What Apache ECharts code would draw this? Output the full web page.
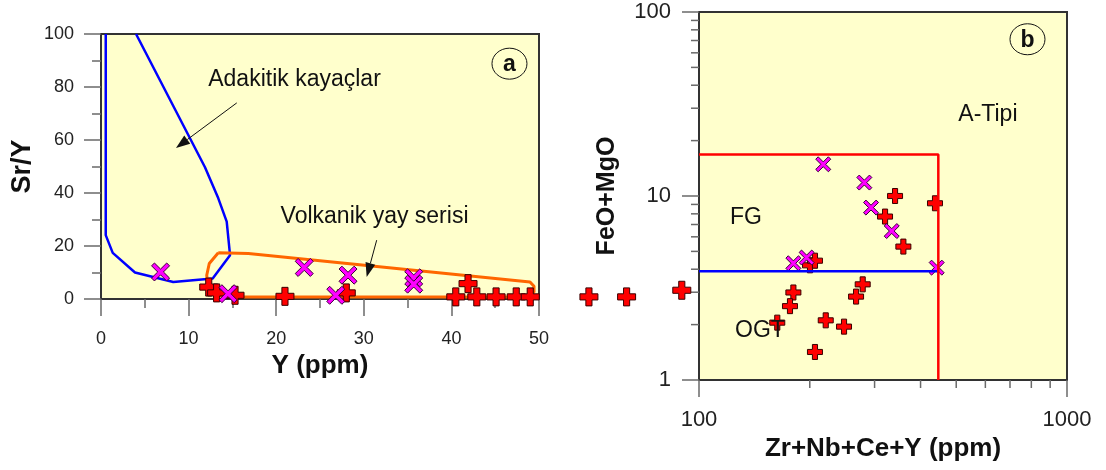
<!DOCTYPE html>
<html>
<head>
<meta charset="utf-8">
<script src="https://cdn.jsdelivr.net/npm/echarts@6/dist/echarts.min.js"></script>
<style>
  html, body { margin: 0; padding: 0; background: #ffffff; }
  #chart { width: 1106px; height: 470px; }
</style>
</head>
<body>
<div id="chart"></div>
<script>
// ---------- Panel (a): Sr/Y versus Y (ppm) ----------
const aPlusY     = [12.3, 13.2, 15.3, 21.0, 28.0, 41.9, 40.5, 42.9, 45.1, 47.4, 49.0, 55.7, 60.0, 66.3];
const aPlusSrY   = [4.5, 2.3, 1.4, 1.0, 2.3, 5.8, 0.8, 0.8, 0.8, 0.8, 0.8, 0.8, 0.8, 3.3];
const aCrossY    = [6.8, 14.5, 23.2, 28.2, 26.8, 35.7, 35.7];
const aCrossSrY  = [10.2, 2.0, 11.9, 9.0, 1.4, 8.0, 5.6];

// Adakite field boundary
const adakiteY   = [0.54, 0.54, 1.34, 3.88, 8.25, 12.75, 14.73, 14.35, 13.39, 11.87, 4.0];
const adakiteSrY = [100, 24.1, 17.4, 10.0, 6.44, 7.73, 16.55, 29.2, 38.0, 49.7, 100];

// Volcanic arc field boundary
const arcY   = [13.39, 16.82, 48.97, 49.43, 49.43, 48.97, 48.17, 15.1, 13.2, 12.25, 12.07, 12.36, 13.39];
const arcSrY = [17.42, 17.2, 6.44, 4.81, 2.65, 1.21, 0.76, 0.76, 1.4, 3.94, 8.98, 13.4, 17.42];

const aXTicks = { min: 0, max: 50, step: 10 };
const aYTicks = { min: 0, max: 100, step: 20 };

// ---------- Panel (b): FeO+MgO versus Zr+Nb+Ce+Y ----------
const bPlusSum   = [341, 437.8, 320.3, 359.2, 200.3, 206.6, 180.5, 176.7, 163.2, 206.6, 221, 247.8, 267.2, 278.5];
const bPlusFeMg  = [10.0, 9.13, 7.73, 5.31, 4.20, 4.45, 2.99, 2.52, 2.05, 1.42, 2.11, 1.95, 2.84, 3.31];
const bCrossSum  = [217.6, 281.4, 293.4, 334, 180.5, 196.1, 442.5];
const bCrossFeMg = [14.87, 11.83, 8.65, 6.45, 4.31, 4.63, 4.08];

// Field boundaries: A-type (red) and FG / OGT (blue)
const aTypeSum  = [100, 447, 447];
const aTypeFeMg = [16.8, 16.8, 1];
const fgSum     = [100, 447];
const fgFeMg    = [3.9, 3.9];

const bXRange = [100, 1000];
const bYRange = [1, 100];
const bXMinorTicks = [200, 300, 400, 500, 600, 700, 800, 900];
const bYMinorTicks = [2, 3, 4, 5, 6, 7, 8, 9, 20, 30, 40, 50, 60, 70, 80, 90];

const zip = (xs, ys) => xs.map((x, i) => [x, ys[i]]);

const FONT = '"Liberation Sans", Arial, Helvetica, sans-serif';
const PLUS = 'path://M33,0 H67 V33 H100 V67 H67 V100 H33 V67 H0 V33 H33 Z';
const CROSS = 'path://M0,16 L16,0 L50,34 L84,0 L100,16 L66,50 L100,84 L84,100 L50,66 L16,100 L0,84 L34,50 Z';
const AXIS_DARK = '#333333';
const TICK_GREY = '#6a6a6a';

function linearAxis(gridIndex, t, label, nameGap, nameSize, labelMargin) {
  return {
    type: 'value', gridIndex, min: t.min, max: t.max, interval: t.step,
    axisLine: { show: true, onZero: false, lineStyle: { color: AXIS_DARK, width: 1.5 } },
    axisTick: { show: true, length: 17, lineStyle: { color: TICK_GREY, width: 1.5 } },
    minorTick: { show: true, splitNumber: 2, length: 9, lineStyle: { color: TICK_GREY, width: 1.5 } },
    splitLine: { show: false },
    axisLabel: { fontSize: 18, color: '#222', margin: labelMargin, fontFamily: FONT },
    name: label, nameLocation: 'middle', nameGap,
    nameTextStyle: { fontSize: nameSize, fontWeight: 'bold', color: '#111', fontFamily: FONT }
  };
}

function logAxis(gridIndex, range, label, nameGap, nameSize, labelMargin) {
  return {
    type: 'log', logBase: 10, gridIndex, min: range[0], max: range[1],
    axisLine: { show: true, onZero: false, lineStyle: { color: AXIS_DARK, width: 1.5 } },
    axisTick: { show: true, length: 17, lineStyle: { color: TICK_GREY, width: 1.5 } },
    minorTick: { show: false },
    splitLine: { show: false },
    axisLabel: { fontSize: 22, color: '#222', margin: labelMargin, fontFamily: FONT,
      formatter: v => String(Math.round(v)) },
    name: label, nameLocation: 'middle', nameGap,
    nameTextStyle: { fontSize: nameSize, fontWeight: 'bold', color: '#111', fontFamily: FONT }
  };
}

// short outward ticks for the logarithmic axes
function minorTickSeries(values, horizontal) {
  return {
    type: 'custom', xAxisIndex: 1, yAxisIndex: 1, clip: false, silent: true, z: 1,
    data: values.map(v => horizontal ? [v, bYRange[0]] : [bXRange[0], v]),
    renderItem: (params, api) => {
      const p = api.coord([api.value(0), api.value(1)]);
      const shape = horizontal
        ? { x1: p[0], y1: p[1], x2: p[0], y2: p[1] + 8 }
        : { x1: p[0], y1: p[1], x2: p[0] - 8, y2: p[1] };
      return { type: 'line', shape, style: { stroke: TICK_GREY, lineWidth: 1.5 } };
    }
  };
}

const option = {
  animation: false,
  backgroundColor: '#ffffff',
  textStyle: { fontFamily: FONT },
  grid: [
    { left: 101, top: 34, width: 438, height: 265, show: true, backgroundColor: '#ffffcc', borderColor: AXIS_DARK, borderWidth: 2 },
    { left: 699, top: 12, width: 368, height: 368, show: true, backgroundColor: '#ffffcc', borderColor: AXIS_DARK, borderWidth: 2 }
  ],
  xAxis: [
    linearAxis(0, aXTicks, 'Y (ppm)', 49, 26, 31),
    logAxis(1, bXRange, 'Zr+Nb+Ce+Y (ppm)', 54, 26, 29)
  ],
  yAxis: [
    linearAxis(0, aYTicks, 'Sr/Y', 65, 27, 27),
    logAxis(1, bYRange, 'FeO+MgO', 79, 25, 28)
  ],
  series: [
    { type: 'line', xAxisIndex: 0, yAxisIndex: 0, data: zip(adakiteY, adakiteSrY), symbol: 'none',
      lineStyle: { color: '#0000ff', width: 2.5 }, z: 2 },
    { type: 'line', xAxisIndex: 0, yAxisIndex: 0, data: zip(arcY, arcSrY), symbol: 'none',
      lineStyle: { color: '#ff6600', width: 3 }, z: 2 },
    { type: 'scatter', xAxisIndex: 0, yAxisIndex: 0, data: zip(aPlusY, aPlusSrY), clip: false,
      symbol: PLUS, symbolSize: 18, itemStyle: { color: '#ff0000', borderColor: '#3a0000', borderWidth: 1, opacity: 1 }, z: 5 },
    { type: 'scatter', xAxisIndex: 0, yAxisIndex: 0, data: zip(aCrossY, aCrossSrY), clip: false,
      symbol: CROSS, symbolSize: 18, itemStyle: { color: '#ff00ff', borderColor: '#3a003a', borderWidth: 1, opacity: 1 }, z: 6 },

    { type: 'scatter', xAxisIndex: 1, yAxisIndex: 1, data: zip(bPlusSum, bPlusFeMg),
      symbol: PLUS, symbolSize: 15, itemStyle: { color: '#ff0000', borderColor: '#3a0000', borderWidth: 1, opacity: 1 }, z: 3 },
    { type: 'scatter', xAxisIndex: 1, yAxisIndex: 1, data: zip(bCrossSum, bCrossFeMg),
      symbol: CROSS, symbolSize: 15, itemStyle: { color: '#ff00ff', borderColor: '#3a003a', borderWidth: 1, opacity: 1 }, z: 4 },
    { type: 'line', xAxisIndex: 1, yAxisIndex: 1, data: zip(fgSum, fgFeMg), symbol: 'none',
      lineStyle: { color: '#0000ff', width: 2.5 }, z: 7 },
    { type: 'line', xAxisIndex: 1, yAxisIndex: 1, data: zip(aTypeSum, aTypeFeMg), symbol: 'none',
      lineStyle: { color: '#ff0000', width: 2.5 }, z: 8 },
    minorTickSeries(bXMinorTicks, true),
    minorTickSeries(bYMinorTicks, false)
  ]
};

const chart = echarts.init(document.getElementById('chart'), null, { renderer: 'canvas' });
chart.setOption(option);

// ---------- annotations placed in data coordinates ----------
const toPx = (g, pt) => chart.convertToPixel({ xAxisIndex: g, yAxisIndex: g }, pt);

function label(g, pt, text, size, weight) {
  const p = toPx(g, pt);
  return { type: 'text', x: p[0], y: p[1], z: 100,
    style: { text, font: (weight || 'normal') + ' ' + size + 'px ' + FONT, fill: '#111', align: 'left', verticalAlign: 'middle' } };
}

function arrow(g, from, to) {
  const a = toPx(g, from), b = toPx(g, to);
  const dx = b[0] - a[0], dy = b[1] - a[1];
  const len = Math.hypot(dx, dy), ux = dx / len, uy = dy / len;
  const headL = 14, headW = 5;
  const bx = b[0] - ux * headL, by = b[1] - uy * headL;
  return [
    { type: 'line', z: 100, shape: { x1: a[0], y1: a[1], x2: bx, y2: by }, style: { stroke: '#111', lineWidth: 1 } },
    { type: 'polygon', z: 100, shape: { points: [[b[0], b[1]], [bx - uy * headW, by + ux * headW], [bx + uy * headW, by - ux * headW]] },
      style: { fill: '#111' } }
  ];
}

function badge(g, pt, letter) {
  const p = toPx(g, pt);
  return [
    { type: 'ellipse', z: 100, shape: { cx: p[0], cy: p[1], rx: 17.5, ry: 15.5 }, style: { fill: 'transparent', stroke: '#111', lineWidth: 1 } },
    { type: 'text', z: 101, x: p[0], y: p[1] + 1, style: { text: letter, font: 'bold 23px ' + FONT, fill: '#111', align: 'center', verticalAlign: 'middle' } }
  ];
}

chart.setOption({
  graphic: [
    label(0, [12.24, 82.8], 'Adakitik kayaçlar', 23),
    label(0, [20.5, 31.0], 'Volkanik yay serisi', 23),
    ...arrow(0, [15.5, 74.0], [8.56, 57.0]),
    ...arrow(0, [31.47, 22.2], [30.33, 8.33]),
    ...badge(0, [46.63, 88.8], 'a'),
    label(1, [121.4, 7.59], 'FG', 23),
    label(1, [125.3, 1.846], 'OGT', 23),
    label(1, [506.6, 27.6], 'A-Tipi', 23),
    ...badge(1, [781, 71.1], 'b')
  ]
});
</script>
</body>
</html>
